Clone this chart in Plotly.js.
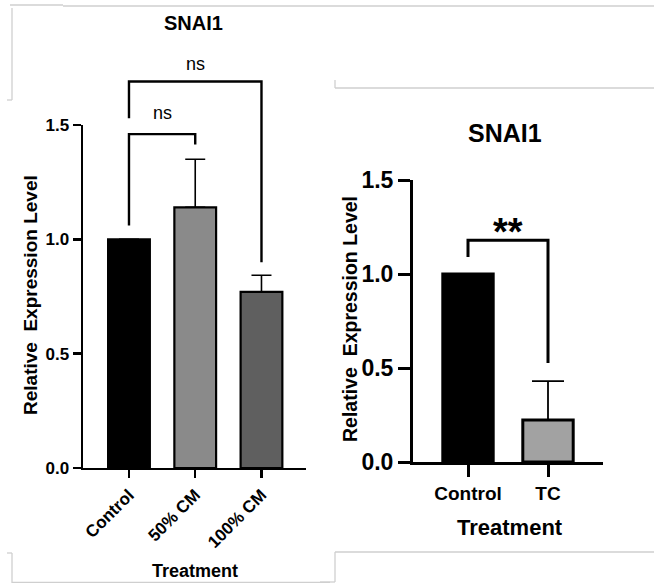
<!DOCTYPE html>
<html>
<head>
<meta charset="utf-8">
<script src="https://cdn.plot.ly/plotly-3.0.1.min.js"></script>
<style>html,body{margin:0;padding:0;background:#fff;}#chart{width:654px;height:583px;}</style>
</head>
<body>
<div id="chart"></div>
<script>
// ---- data ----
const leftTitle = "SNAI1";
const leftCategories = ["Control", "50% CM", "100% CM"];
const leftMeans = [1.0, 1.14, 0.77];
const leftSD = [0, 0.21, 0.073];
const leftColors = ["#000000", "#8a8a8a", "#5f5f5f"];

const rightTitle = "SNAI1";
const rightCategories = ["Control", "TC"];
const rightMeans = [1.0, 0.223];
const rightSD = [0, 0.207];
const rightColors = ["#000000", "#a2a2a2"];

const yTickVals = [0, 0.5, 1.0, 1.5];
const yTickText = ["0.0", "0.5", "1.0", "1.5"];

// significance brackets
const leftBrackets = [
  {from: "Control", to: "50% CM", y0: 1.06, top: 1.46, y1: 1.415, label: "ns", labelY: 1.552},
  {from: "Control", to: "100% CM", y0: 1.53, top: 1.69, y1: 0.90, label: "ns", labelY: 1.767}
];
const rightBrackets = [
  {from: "Control", to: "TC", y0: 1.09, top: 1.18, y1: 0.527, label: "**", labelY: 1.226}
];

const FONT = "Liberation Sans, Arial, sans-serif";
const W = 654, H = 583;
const px = v => v / W;
const py = v => 1 - v / H;

const traces = [];
traces.push({
  type: "bar", x: leftCategories, y: leftMeans, xaxis: "x", yaxis: "y",
  width: 0.63,
  marker: {color: leftColors, line: {color: "#000", width: 2.2}},
  error_y: {type: "data", symmetric: false, array: leftSD, arrayminus: leftSD.map(() => 0),
            color: "#000", thickness: 1.6, width: 10},
  hoverinfo: "skip", showlegend: false
});
traces.push({
  type: "bar", x: rightCategories, y: rightMeans, xaxis: "x2", yaxis: "y2",
  width: 0.63,
  marker: {color: rightColors, line: {color: "#000", width: 3}},
  error_y: {type: "data", symmetric: false, array: rightSD, arrayminus: rightSD.map(() => 0),
            color: "#000", thickness: 1.8, width: 16},
  hoverinfo: "skip", showlegend: false
});

const annotations = [];
function addBrackets(list, xa, ya, lw, fsize, weight, cats) {
  list.forEach(b => {
    traces.push({
      type: "scatter", mode: "lines", xaxis: xa, yaxis: ya,
      x: [b.from, b.from, b.to, b.to], y: [b.y0, b.top, b.top, b.y1],
      line: {color: "#000", width: lw}, hoverinfo: "skip", showlegend: false, cliponaxis: false
    });
    const i0 = cats.indexOf(b.from), i1 = cats.indexOf(b.to);
    annotations.push({
      xref: xa, yref: ya, x: (i0 + i1) / 2, y: b.labelY, text: b.label, showarrow: false,
      xanchor: "center", yanchor: "middle",
      font: {family: FONT, size: fsize, color: "#000", weight: weight}
    });
  });
}
addBrackets(leftBrackets, "x", "y3", 2.4, 18, "normal", leftCategories);
addBrackets(rightBrackets, "x2", "y2", 3, 38, "bold", rightCategories);

function paperText(x, y, text, size, angle) {
  annotations.push({xref: "paper", yref: "paper", x: px(x), y: py(y), text: text, showarrow: false,
    xanchor: "center", yanchor: "middle", textangle: angle || 0,
    font: {family: FONT, size: size, weight: "bold", color: "#000"}});
}
paperText(193, 23, leftTitle, 20);
paperText(505, 133, rightTitle, 25);
paperText(30, 295, "Relative\u00a0 Expression Level", 19, -90);
paperText(350, 319, "Relative\u00a0 Expression Level", 19.5, -90);
paperText(195, 571, "Treatment", 18);
paperText(510, 527, "Treatment", 22);

// decorative light-grey frame lines of the screenshot
const G = "#cfcfcf";
const frame = [
  [10, 5, 63, 5], [63, 6, 654, 6], [12, 8, 12, 100], [7, 100, 12, 100],
  [335, 88, 654, 88], [335, 80, 335, 88],
  [335, 552, 654, 552], [335, 552, 335, 582], [320, 582, 335, 582],
  [12, 553, 12, 583], [7, 553, 12, 553], [12, 582.5, 330, 582.5]
];
const shapes = frame.map(f => ({type: "line", xref: "paper", yref: "paper",
  x0: px(f[0]), y0: py(f[1]), x1: px(f[2]), y1: py(f[3]), line: {color: G, width: 1.3}}));

const leftPxPerUnit = (468 - 125) / 1.5;
const layout = {
  width: W, height: H, margin: {l: 0, r: 0, t: 0, b: 0},
  paper_bgcolor: "#fff", plot_bgcolor: "rgba(0,0,0,0)",
  font: {family: FONT, color: "#000"},
  showlegend: false,
  xaxis: {domain: [px(83), px(306)], range: [-0.694, 2.672], anchor: "y", type: "category",
    showline: true, linecolor: "#000", linewidth: 2.4, ticks: "outside", ticklen: 8, tickwidth: 2.4, tickcolor: "#000",
    tickangle: -45, tickfont: {family: FONT, size: 17, weight: "bold", color: "#000"},
    showgrid: false, zeroline: false, fixedrange: true},
  yaxis: {domain: [py(468), py(125)], range: [0, 1.5], anchor: "x",
    showline: true, linecolor: "#000", linewidth: 2.4, ticks: "outside", ticklen: 8, tickwidth: 2.4, tickcolor: "#000",
    tickvals: yTickVals, ticktext: yTickText, tickfont: {family: FONT, size: 17, weight: "bold", color: "#000"},
    showgrid: false, zeroline: false, fixedrange: true},
  yaxis3: {domain: [py(468), py(40)], range: [0, (468 - 40) / leftPxPerUnit], anchor: "x",
    showline: false, showticklabels: false, ticks: "", showgrid: false, zeroline: false, fixedrange: true},
  xaxis2: {domain: [px(413), px(603)], range: [-0.6875, 1.6875], anchor: "y2", type: "category",
    showline: true, linecolor: "#000", linewidth: 3, ticks: "outside", ticklen: 12, tickwidth: 3, tickcolor: "#000",
    tickangle: 0, tickfont: {family: FONT, size: 19, weight: "bold", color: "#000"},
    showgrid: false, zeroline: false, fixedrange: true},
  yaxis2: {domain: [py(462), py(180)], range: [0, 1.5], anchor: "x2",
    showline: true, linecolor: "#000", linewidth: 3, ticks: "outside", ticklen: 12, tickwidth: 3, tickcolor: "#000",
    tickvals: yTickVals, ticktext: yTickText, tickfont: {family: FONT, size: 23, weight: "bold", color: "#000"},
    showgrid: false, zeroline: false, fixedrange: true},
  annotations: annotations,
  shapes: shapes
};

Plotly.newPlot("chart", traces, layout, {staticPlot: true, displayModeBar: false});
</script>
</body>
</html>
